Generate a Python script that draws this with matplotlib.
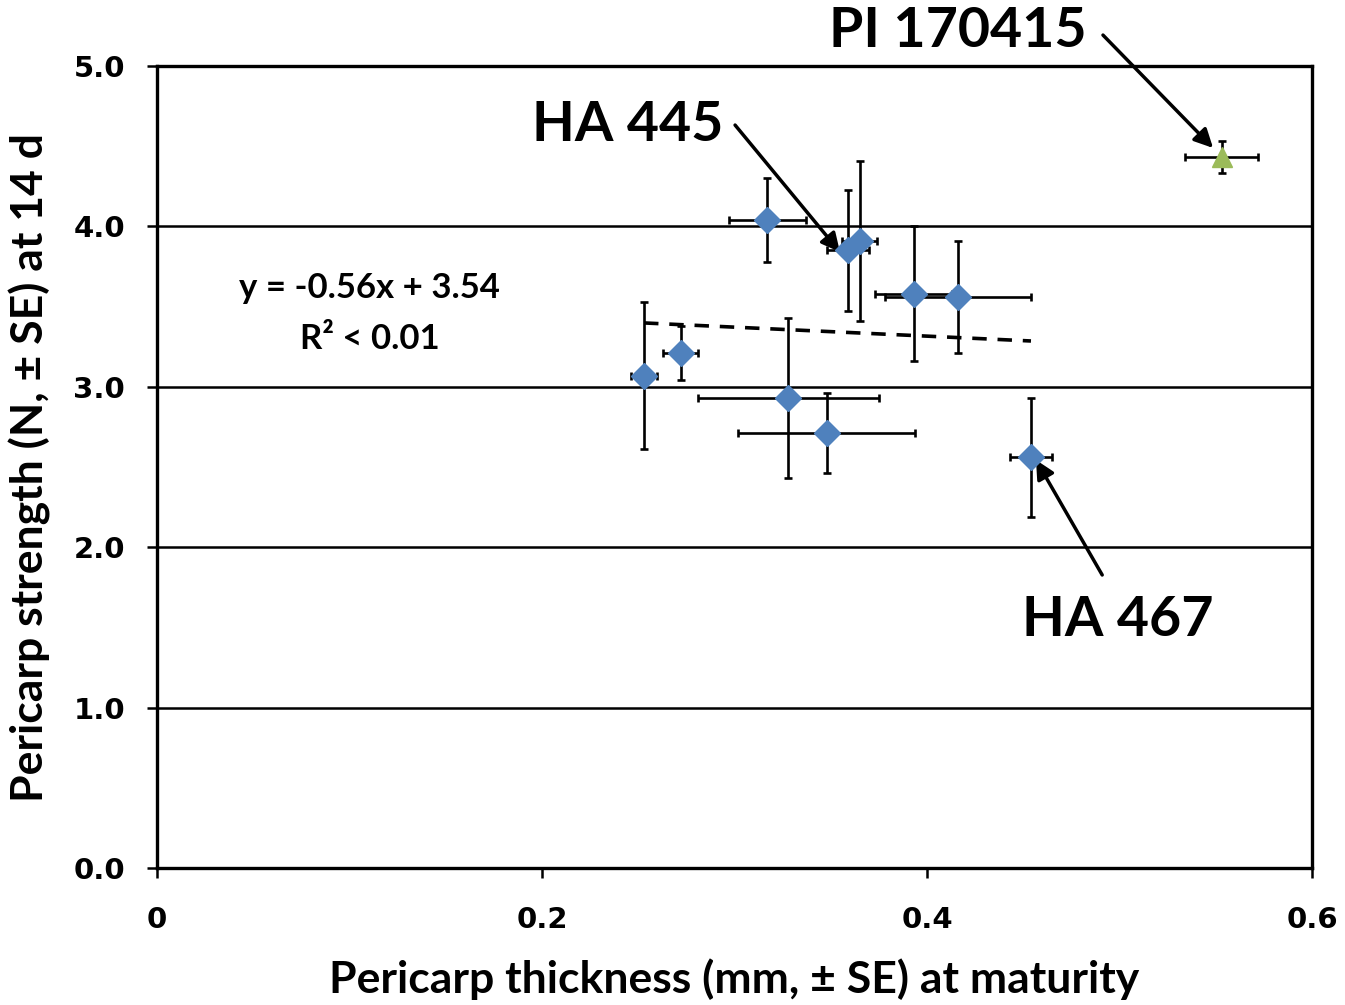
import numpy as np
import matplotlib
matplotlib.use('Agg')
import matplotlib.pyplot as plt

# pericarp thickness (mm) and strength (N) with SE
thick = [0.253, 0.272, 0.317, 0.328, 0.348, 0.359, 0.365, 0.393, 0.416, 0.454]
thick_se = [0.007, 0.009, 0.020, 0.047, 0.046, 0.011, 0.009, 0.020, 0.038, 0.011]
strength = [3.07, 3.21, 4.04, 2.93, 2.71, 3.85, 3.91, 3.58, 3.56, 2.56]
strength_se = [0.46, 0.17, 0.26, 0.50, 0.25, 0.38, 0.50, 0.42, 0.35, 0.37]

pi_thick, pi_thick_se = 0.553, 0.019
pi_strength, pi_strength_se = 4.43, 0.10

slope, intercept = -0.56, 3.54

fig = plt.figure(figsize=(13.45, 10.05), dpi=100)
ax = fig.add_axes([0.1167, 0.1363, 0.8588, 0.798])

for yv in [1, 2, 3, 4]:
    ax.axhline(yv, color='black', lw=1.8, zorder=1)

# trendline over range of the blue points
xl = np.array([min(thick), max(thick)])
ax.plot(xl, slope * xl + intercept, color='black', lw=2.6, ls=(0, (4, 3)), zorder=2)

eb = dict(fmt='none', ecolor='black', elinewidth=1.9, capsize=3, capthick=1.9, zorder=3)
ax.errorbar(thick, strength, xerr=thick_se, yerr=strength_se, **eb)
ax.plot(thick, strength, 'D', color='#4F81BD', ms=13.5, mec='#4F81BD', zorder=4)

ax.errorbar([pi_thick], [pi_strength], xerr=[pi_thick_se], yerr=[pi_strength_se], **eb)
ax.plot([pi_thick], [pi_strength], '^', color='#9BBB59', ms=14, mec='#9BBB59', zorder=4)

ax.set_xlim(0, 0.6)
ax.set_ylim(0, 5)
ax.set_xticks([0, 0.2, 0.4, 0.6])
ax.set_xticklabels(['0', '0.2', '0.4', '0.6'])
ax.set_yticks([0, 1, 2, 3, 4, 5])
ax.set_yticklabels(['0.0', '1.0', '2.0', '3.0', '4.0', '5.0'])
ax.tick_params(direction='out', length=7, width=1.8, labelsize=21)
ax.tick_params(axis='y', pad=16)
ax.tick_params(axis='x', pad=20)
for lab in ax.get_xticklabels() + ax.get_yticklabels():
    lab.set_fontweight('bold')
for s in ax.spines.values():
    s.set_linewidth(2.4)
    s.set_color('black')

ax.set_xlabel('Pericarp thickness (mm, ± SE) at maturity', fontsize=32,
              fontweight='bold', family='Lato')
ax.set_ylabel('Pericarp strength (N, ± SE) at 14 d', fontsize=32,
              fontweight='bold', family='Lato')
ax.xaxis.set_label_coords(0.5, -0.113)
ax.yaxis.set_label_coords(-0.092, 0.5)

ax.text(0.1106, 3.616, 'y = -0.56x + 3.54', fontsize=25, fontweight='bold',
        family='Lato', ha='center', va='center')
ax.text(0.1106, 3.30, 'R² < 0.01', fontsize=25, fontweight='bold',
        family='Lato', ha='center', va='center')

arrow = dict(arrowstyle='-|>', lw=2.5, color='black', mutation_scale=28, shrinkA=0, shrinkB=0)
labels = [
    ('PI 170415', (0.416, 5.22), (0.4914, 5.193), (0.5486, 4.489)),
    ('HA 445', (0.2447, 4.63), (0.3003, 4.632), (0.3548, 3.84)),
    ('HA 467', (0.499, 1.546), (0.491, 1.827), (0.4566, 2.544)),
]
for txt, pos, start, end in labels:
    ax.text(pos[0], pos[1], txt, fontsize=40, fontweight='bold', family='Lato',
            ha='center', va='center', clip_on=False)
    ax.annotate('', xy=end, xytext=start, arrowprops=arrow, annotation_clip=False)

fig.savefig('out.png', dpi=100)
